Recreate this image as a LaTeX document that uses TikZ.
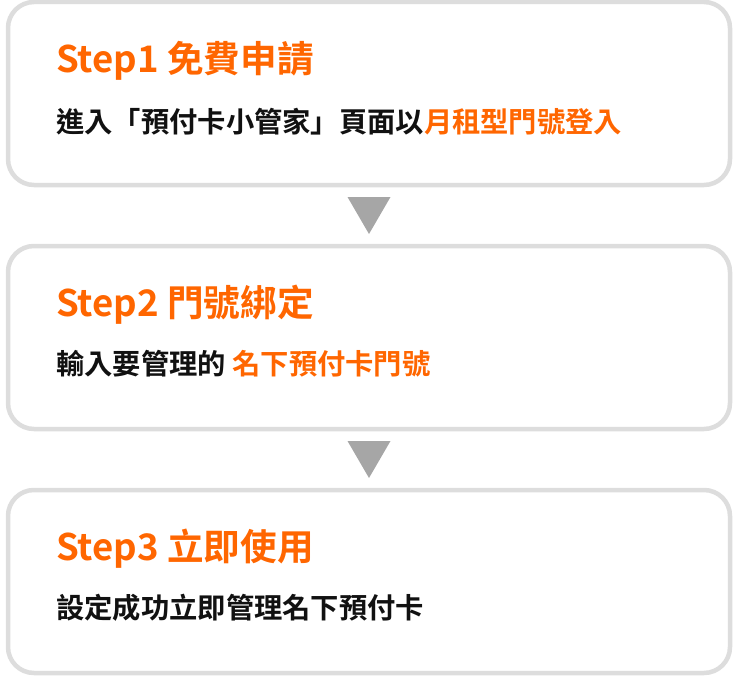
\documentclass[tikz,border=0pt]{standalone}
\usepackage{fontspec}
\setmainfont{Noto Sans CJK TC}[BoldFont={* Bold}]
\usetikzlibrary{calc, math}
\definecolor{myorange}{RGB}{255,102,0}
\definecolor{mygray}{RGB}{221,221,221}
\definecolor{myarrow}{RGB}{166,166,166}
\definecolor{myblack}{RGB}{17,17,17}

\tikzset{
stepbox/.style={draw=mygray, line width=4.5pt, rounded corners=26pt, fill=white,
  minimum width=722pt, minimum height=183pt, inner sep=0pt},
steptitle/.style={anchor=west, inner sep=0pt, text=myorange, font=\bfseries\fontsize{36.6}{42}\selectfont},
steptext/.style={anchor=west, inner sep=0pt, text=myblack, font=\bfseries\fontsize{28.3}{33}\selectfont},
}

\begin{document}
\begin{tikzpicture}[x=1pt, y=-1pt]
\tikzmath{
\X=369; \H=244;
}
\useasboundingbox (0,0) rectangle (737,677);

\node[stepbox] (box1) at (\X,93.5) {};
\node[stepbox] (box2) at (\X,93.5+\H) {};
\node[stepbox] (box3) at (\X,93.5+2*\H) {};

\node[steptitle] (title1) at (56,61) {Step1 免費申請};
\node[steptext] (text1) at (56,122) {進入「預付卡小管家」頁面以\textcolor{myorange}{月租型門號登入}};

\node[steptitle] (title2) at (56,61+\H) {Step2 門號綁定};
\node[steptext] (text2) at (56,120+\H) {輸入要管理的 \textcolor{myorange}{名下預付卡門號}};

\node[steptitle] (title3) at (56,61+2*\H) {Step3 立即使用};
\node[steptext] (text3) at (56,120+2*\H) {設定成功立即管理名下預付卡};

% arrows between steps
\foreach \a/\b in {box1/box2, box2/box3}{
\fill[myarrow] ($(\a.south)!0.5!(\b.north)$) +(-21.5,-18.5) -- +(21.5,-18.5) -- +(0,18.5) -- cycle;
}
\end{tikzpicture}
\end{document}
